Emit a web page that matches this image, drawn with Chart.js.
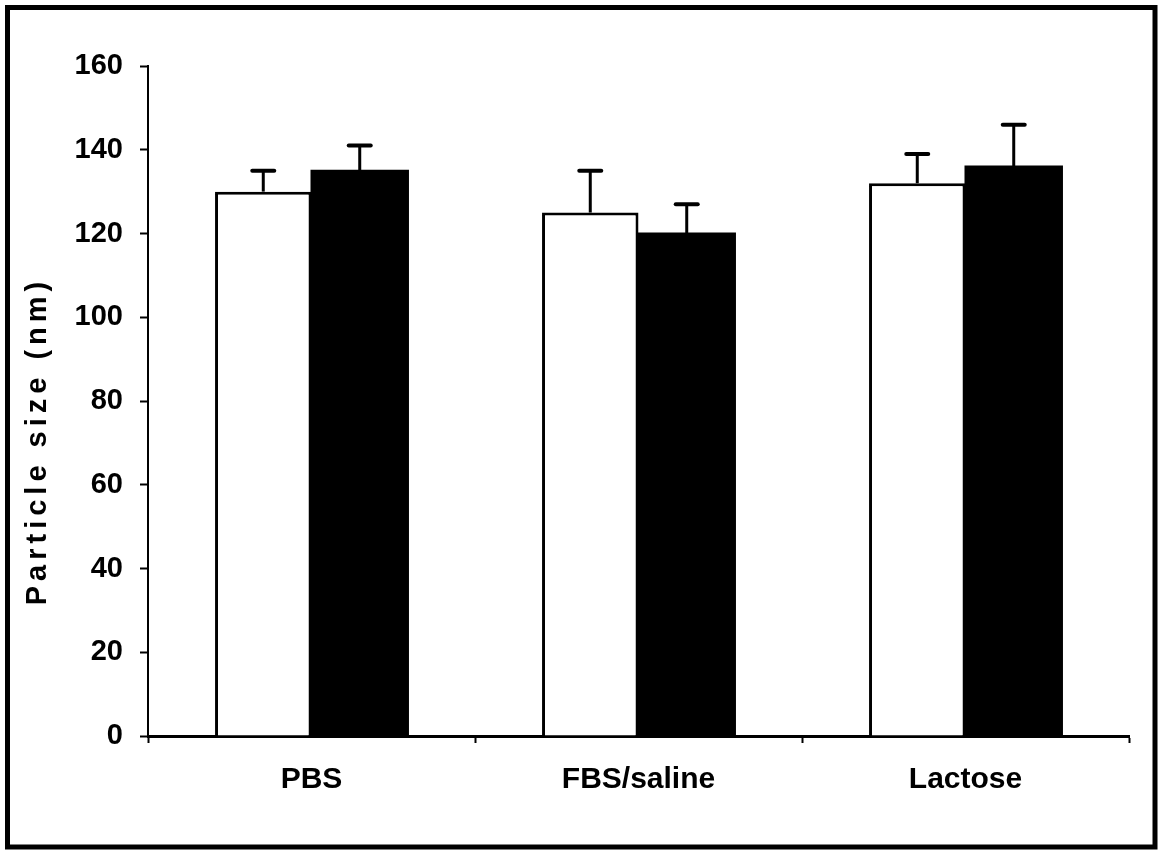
<!DOCTYPE html>
<html>
<head>
<meta charset="utf-8">
<script src="https://cdn.jsdelivr.net/npm/chart.js@4"></script>
<style>
  html, body { margin: 0; padding: 0; background: #fff; }
  #wrap { width: 1161px; height: 851px; position: relative; }
</style>
</head>
<body>
<div id="wrap"><canvas id="chart"></canvas></div>
<script>
// --- DATA ---
const categories = ['PBS', 'FBS/saline', 'Lactose'];
const whiteValues = [130, 125, 132];
const whiteErrors = [5, 10, 7];
const blackValues = [135, 120, 136];
const blackErrors = [6, 7, 10];
const yTicks = [0, 20, 40, 60, 80, 100, 120, 140, 160];
const yTitle = 'Particle size (nm)';

const FONT = "'Liberation Sans', Arial, sans-serif";

// outer frame round the whole picture
const framePlugin = {
  id: 'frame',
  beforeDraw(chart) {
    const c = chart.ctx;
    c.save();
    c.fillStyle = '#fff';
    c.fillRect(0, 0, chart.width, chart.height);
    c.strokeStyle = '#000';
    c.lineWidth = 5;
    c.strokeRect(7.5, 7.5, 1147.5, 839.5);
    c.restore();
  }
};

// error bars (upper only) from the errs arrays
const errorBarPlugin = {
  id: 'errorBars',
  afterDatasetsDraw(chart) {
    const c = chart.ctx;
    const y = chart.scales.y;
    c.save();
    c.strokeStyle = '#000';
    chart.data.datasets.forEach((ds, i) => {
      const meta = chart.getDatasetMeta(i);
      meta.data.forEach((bar, j) => {
        const top = y.getPixelForValue(ds.data[j] + ds.errs[j]);
        c.lineWidth = 3;
        c.lineCap = 'butt';
        c.beginPath();
        c.moveTo(bar.x, bar.y);
        c.lineTo(bar.x, top);
        c.stroke();
        c.lineWidth = 4;
        c.lineCap = 'round';
        c.beginPath();
        c.moveTo(bar.x - 11, top);
        c.lineTo(bar.x + 11, top);
        c.stroke();
      });
    });
    c.restore();
  }
};

// rotated y title, spaced out like the scan
const yTitlePlugin = {
  id: 'yTitle',
  afterDraw(chart) {
    const c = chart.ctx;
    c.save();
    c.translate(38, 443);
    c.rotate(-Math.PI / 2);
    c.font = 'bold 29px ' + FONT;
    c.fillStyle = '#000';
    c.textAlign = 'center';
    c.textBaseline = 'middle';
    c.letterSpacing = '5px';
    c.fillText(yTitle, 2, 0);
    c.restore();
  }
};

const ctx = document.getElementById('chart').getContext('2d');

new Chart(ctx, {
  type: 'bar',
  data: {
    labels: categories,
    datasets: [
      {
        label: 'white',
        data: whiteValues,
        errs: whiteErrors,
        backgroundColor: '#fff',
        borderColor: '#000',
        borderWidth: 3,
        borderSkipped: 'bottom'
      },
      {
        label: 'black',
        data: blackValues,
        errs: blackErrors,
        backgroundColor: '#000',
        borderColor: '#000',
        borderWidth: 0,
        inflateAmount: 1
      }
    ]
  },
  options: {
    responsive: true,
    maintainAspectRatio: false,
    animation: false,
    devicePixelRatio: 1,
    layout: { padding: { left: 0, right: 32, top: 66, bottom: 0 } },
    plugins: {
      legend: { display: false },
      tooltip: { enabled: false }
    },
    datasets: {
      bar: { categoryPercentage: 0.59, barPercentage: 1.0 }
    },
    scales: {
      x: {
        grid: {
          display: true,
          drawOnChartArea: false,
          offset: true,
          tickLength: 7,
          tickWidth: 2,
          tickColor: '#000'
        },
        border: { display: true, color: '#000', width: 3 },
        ticks: {
          color: '#000',
          padding: 19,
          font: { family: FONT, size: 30, weight: 'bold' }
        },
        afterFit(scale) { scale.height = 115; }
      },
      y: {
        min: 0,
        max: 160,
        afterBuildTicks(scale) { scale.ticks = yTicks.map(v => ({ value: v })); },
        grid: {
          display: true,
          drawOnChartArea: false,
          tickLength: 8,
          tickWidth: 2,
          tickColor: '#000'
        },
        border: { display: true, color: '#000', width: 2 },
        ticks: {
          color: '#000',
          padding: 17,
          font: { family: FONT, size: 29, weight: 'bold' }
        },
        afterFit(scale) { scale.width = 148; }
      }
    }
  },
  plugins: [framePlugin, errorBarPlugin, yTitlePlugin]
});
</script>
</body>
</html>
